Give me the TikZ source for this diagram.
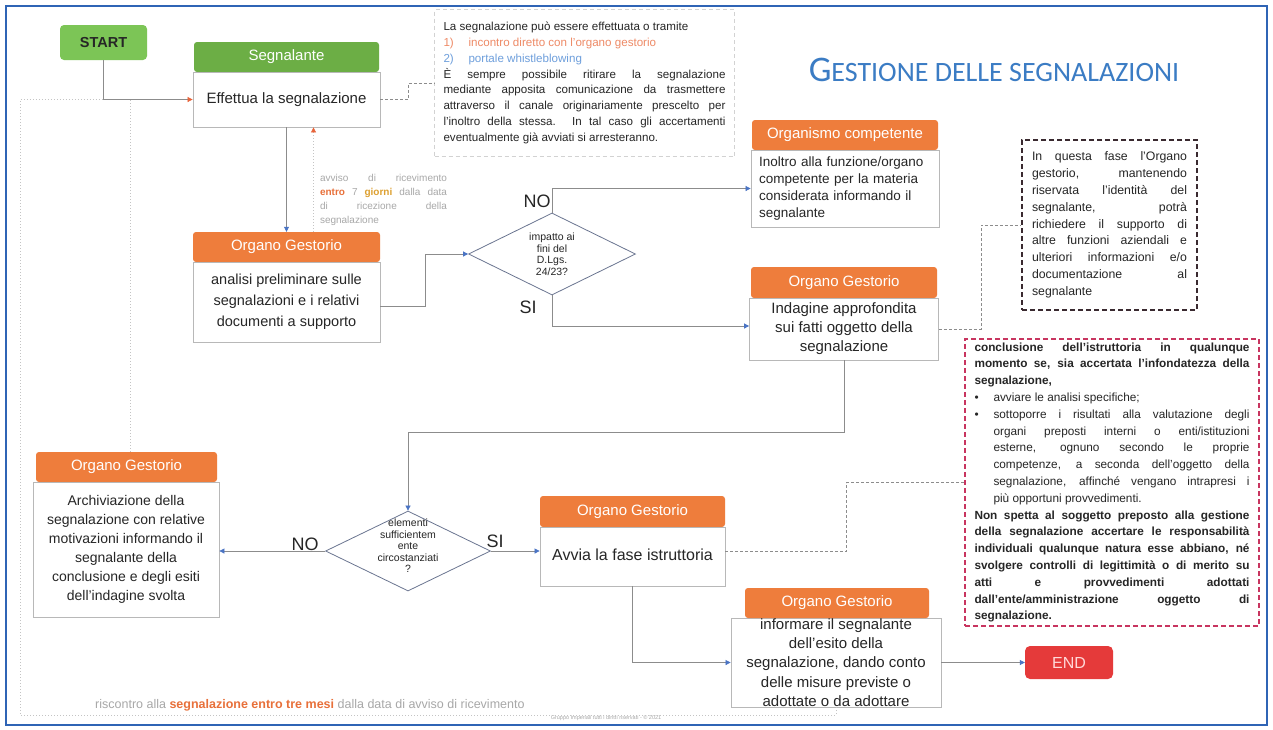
\documentclass[tikz,border=0pt]{standalone}
\usepackage{fontspec}
\setmainfont{Liberation Sans}
\newfontfamily\titlefont{Carlito}
\usetikzlibrary{arrows.meta,shapes.geometric}
\definecolor{frameblue}{HTML}{2F64B5}
\definecolor{hdrgreen}{HTML}{6CAE45}
\definecolor{startgreen}{HTML}{7CC556}
\definecolor{hdrorange}{HTML}{EE7D3C}
\definecolor{endred}{HTML}{E53A3A}
\definecolor{boxgray}{HTML}{B8B8B8}
\definecolor{linegray}{HTML}{8C8C8C}
\definecolor{dotgray}{HTML}{C4C4C4}
\definecolor{diagray}{HTML}{6A7590}
\definecolor{arrowblue}{HTML}{4A74C4}
\definecolor{arroworange}{HTML}{E8643A}
\definecolor{titleblue}{HTML}{3B7CC4}
\definecolor{dashred}{HTML}{C83560}
\definecolor{dashdark}{HTML}{3A2A30}
\definecolor{txtorange}{HTML}{EE8A66}
\definecolor{txtblue}{HTML}{6E9FDC}
\definecolor{faint}{HTML}{A8A8A8}
\definecolor{boldorange}{HTML}{E8703A}
\definecolor{amber}{HTML}{DDA030}
\definecolor{darktext}{HTML}{262626}
\newcommand{\fsz}[2]{\fontsize{#1}{#2}\selectfont}
\begin{document}
\begin{tikzpicture}[x=1pt,y=-1pt,
  hdr/.style={rounded corners=3pt, inner sep=0pt, text=white, fill=hdrorange, font=\fsz{15}{18}},
  bodyst/.style={draw=boxgray, fill=white, line width=0.8pt, inner sep=0pt, text=darktext},
  startst/.style={rounded corners=4pt, fill=startgreen, inner sep=0pt, minimum width=87pt, minimum height=35pt, text=darktext, font=\bfseries\fsz{14.5}{17}},
  endst/.style={rounded corners=5pt, fill=endred, inner sep=0pt, minimum width=88pt, minimum height=33pt, text=white!85!red, font=\fsz{16}{18}},
  tboxst/.style={draw=gray!35, dash pattern=on 4pt off 3pt, line width=0.8pt, fill=white, inner sep=0pt, text=darktext},
  note1/.style={draw=dashdark, dash pattern=on 5pt off 3pt, line width=1.2pt, fill=white, inner sep=0pt, text=darktext},
  note2/.style={draw=dashred, dash pattern=on 5pt off 3pt, line width=1.2pt, fill=white, inner sep=0pt, text=darktext},
  dia/.style={diamond, aspect=2, draw=diagray, fill=white, line width=0.8pt, inner sep=0pt},
  diat/.style={inner sep=0pt, align=center, text=darktext, font=\fsz{10.5}{11.5}},
  lbl/.style={inner sep=0pt, text=darktext, font=\fsz{18}{20}},
  conn/.style={draw=linegray, line width=0.7pt, -{Triangle[length=5pt,width=5pt,color=arrowblue]}},
  connor/.style={draw=linegray, line width=0.7pt, -{Triangle[length=5pt,width=5pt,color=arroworange]}},
  dconn/.style={draw=linegray, line width=0.7pt, dash pattern=on 3pt off 2pt},
  fb/.style={draw=dotgray, line width=0.7pt, dash pattern=on 1pt off 2pt}
]
\fill[white] (0,0) rectangle (1273,729);
\useasboundingbox (0,0) rectangle (1273,729);

% ---- top row
\node[startst] (start) at (103.5,42.5) {START};
\node[hdr, fill=hdrgreen, minimum width=185pt, minimum height=30pt] (segh) at (286.5,57) {Segnalante};
\node[bodyst, minimum width=187pt, minimum height=55pt, font=\fsz{15}{18}] (eff) at (286.5,99.5) {Effettua la segnalazione};

\node[tboxst, minimum width=300pt, minimum height=147pt] (tbox) at (584.5,83) {\parbox{282pt}{\fsz{11.6}{15.8}%
{\raggedright La segnalazione può essere effettuata o tramite\\
\textcolor{txtorange}{\makebox[25pt][l]{1)}incontro diretto con l'organo gestorio}\\
\textcolor{txtblue}{\makebox[25pt][l]{2)}portale whistleblowing}\par}
È sempre possibile ritirare la segnalazione\linebreak mediante apposita comunicazione da trasmettere\linebreak attraverso il canale originariamente prescelto per\linebreak l'inoltro della stessa. In tal caso gli accertamenti\linebreak eventualmente già avviati si arresteranno.}};

\node[inner sep=0pt, text=titleblue] (title) at (994,70) {\titlefont\fsz{36}{36}G\fsz{28}{28}ESTIONE DELLE SEGNALAZIONI};

\node[inner sep=0pt, text=faint] (avv) at (383.5,200) {\parbox{127pt}{\fsz{10}{14}avviso di ricevimento\linebreak \textbf{\textcolor{boldorange}{entro}} 7 \textbf{\textcolor{amber}{giorni}} dalla data\linebreak di ricezione della\linebreak segnalazione}};

% ---- second row
\node[hdr, minimum width=187pt, minimum height=30pt] (anah) at (286.5,247) {Organo Gestorio};
\node[bodyst, minimum width=187pt, minimum height=80pt, align=center, font=\fsz{14.5}{21}] (anab) at (286.5,302) {analisi preliminare sulle\\segnalazioni e i relativi\\documenti a supporto};

\node[dia, minimum width=167pt, minimum height=82pt] (d1) at (552,254) {};
\node[diat] (d1t) at (d1.center) {impatto ai\\fini del\\D.Lgs.\\24/23?};
\node[lbl] (no1) at (537,201) {NO};
\node[lbl] (si1) at (528,307) {SI};

\node[hdr, minimum width=186pt, minimum height=30pt] (orgh) at (845,135) {Organismo competente};
\node[bodyst, minimum width=188pt, minimum height=77pt, align=left, text width=172pt, font=\fsz{13.5}{16.8}] (orgb) at (845,188.5) {Inoltro alla funzione/organo\\competente per la materia\\considerata informando il\\segnalante};

\node[hdr, minimum width=186pt, minimum height=31pt] (indh) at (844,282.5) {Organo Gestorio};
\node[bodyst, minimum width=189pt, minimum height=62pt, align=center, font=\fsz{15}{19}] (indb) at (844,329) {Indagine approfondita\\sui fatti oggetto della\\segnalazione};

\node[note1, minimum width=175pt, minimum height=170pt] (box1) at (1109.5,225) {\parbox{155pt}{\fsz{12.3}{16.8}In questa fase l'Organo\linebreak gestorio, mantenendo\linebreak riservata l'identità del\linebreak segnalante, potrà\linebreak richiedere il supporto di\linebreak altre funzioni aziendali e\linebreak ulteriori informazioni e/o\linebreak documentazione al\linebreak segnalante}};

\node[note2, minimum width=294pt, minimum height=287pt] (box2) at (1112,482.5) {\parbox{275pt}{\fsz{11.8}{16.8}%
\textbf{conclusione dell'istruttoria in qualunque\linebreak momento se, sia accertata l'infondatezza della\linebreak segnalazione,}\par
\hangindent=19pt\hangafter=1\noindent\makebox[19pt][l]{\textbullet}avviare le analisi specifiche;\par
\hangindent=19pt\hangafter=1\noindent\makebox[19pt][l]{\textbullet}sottoporre i risultati alla valutazione degli\linebreak organi preposti interni o enti/istituzioni\linebreak esterne, ognuno secondo le proprie\linebreak competenze, a seconda dell'oggetto della\linebreak segnalazione, affinché vengano intrapresi i\linebreak più opportuni provvedimenti.\par
\textbf{Non spetta al soggetto preposto alla gestione\linebreak della segnalazione accertare le responsabilità\linebreak individuali qualunque natura esse abbiano, né\linebreak svolgere controlli di legittimità o di merito su\linebreak atti e provvedimenti adottati\linebreak dall'ente/amministrazione oggetto di\linebreak segnalazione.}}};

% ---- lower rows
\node[hdr, minimum width=181pt, minimum height=30pt] (archh) at (126.5,467) {Organo Gestorio};
\node[bodyst, minimum width=186pt, minimum height=135pt, align=center, font=\fsz{14}{19}] (archb) at (126,549.5) {Archiviazione della\\segnalazione con relative\\motivazioni informando il\\segnalante della\\conclusione e degli esiti\\dell'indagine svolta};

\node[dia, minimum width=165pt, minimum height=80pt] (d2) at (408,551) {};
\node[diat] (d2t) at (408,546) {elementi\\sufficientem\\ente\\circostanziati\\?};
\node[lbl] (no2) at (305,544) {NO};
\node[lbl] (si2) at (495,541) {SI};

\node[hdr, minimum width=185pt, minimum height=31pt] (avh) at (632.5,511.5) {Organo Gestorio};
\node[bodyst, minimum width=185pt, minimum height=59pt, font=\fsz{16}{19}] (avb) at (632.5,556.5) {\raisebox{4.5pt}{Avvia la fase istruttoria}};

\node[bodyst, minimum width=210pt, minimum height=89pt, align=center, font=\fsz{15}{19.3}] (finb) at (836,662.5) {informare il segnalante\\dell'esito della\\segnalazione, dando conto\\delle misure previste o\\adottate o da adottare};
\node[hdr, minimum width=184pt, minimum height=30pt] (finh) at (837,603) {Organo Gestorio};

\node[endst] (end) at (1069,662.5) {END};

\node[anchor=west, inner sep=0pt, text=faint, font=\fsz{12.5}{14}] (risc) at (95,705) {riscontro alla \textcolor{boldorange}{\textbf{segnalazione entro tre mesi}} dalla data di avviso di ricevimento};
\node[inner sep=0pt, text=faint, font=\fsz{5.5}{6}] (copy) at (606,718) {Gruppo Imperiali tutti i diritti riservati - © 2021};

% ---- connectors
\coordinate (lx) at (20,0);
\coordinate (ftl) at (eff.west -| lx);
\coordinate (fbl) at (20,715);
\draw[fb] (finb.south) |- (fbl) -- (ftl) -- (ftl -| start.south);
\draw[fb] ([xshift=4pt]archh.north) -- ([xshift=4pt]archh.north |- ftl);
\draw[connor] (start.south) |- (eff.west);
\draw[dconn] (eff.east) -- ++(28,0) |- (tbox.west);
\draw[conn] (eff.south) -- (anah.north);
\draw[fb, -{Triangle[length=5pt,width=5pt,color=arroworange]}] ([xshift=27pt]anah.north) -- ([xshift=27pt]eff.south);
\draw[conn] ([yshift=-4pt]anab.east) -- ++(45,0) |- (d1.west);
\draw[conn] (d1.north) |- (orgb.west);
\draw[conn] (d1.south) |- ([yshift=3pt]indb.west);
\draw[dconn] (indb.east) -- ++(42,0) |- (box1.west);
\draw[conn] (indb.south) -- ++(0,72) -| (d2.north);
\draw[conn] (d2.west) -- (d2.west -| archb.east);
\draw[conn] (d2.east) -- (d2.east -| avb.west);
\draw[dconn] ([yshift=5pt]avb.east) -- ++(121,0) |- (box2.west);
\draw[conn] (avb.south) |- (finb.west);
\draw[conn] (finb.east) -- (end.west);

\draw[frameblue, line width=2.5pt] (6,6) rectangle (1267,725);
\end{tikzpicture}
\end{document}
